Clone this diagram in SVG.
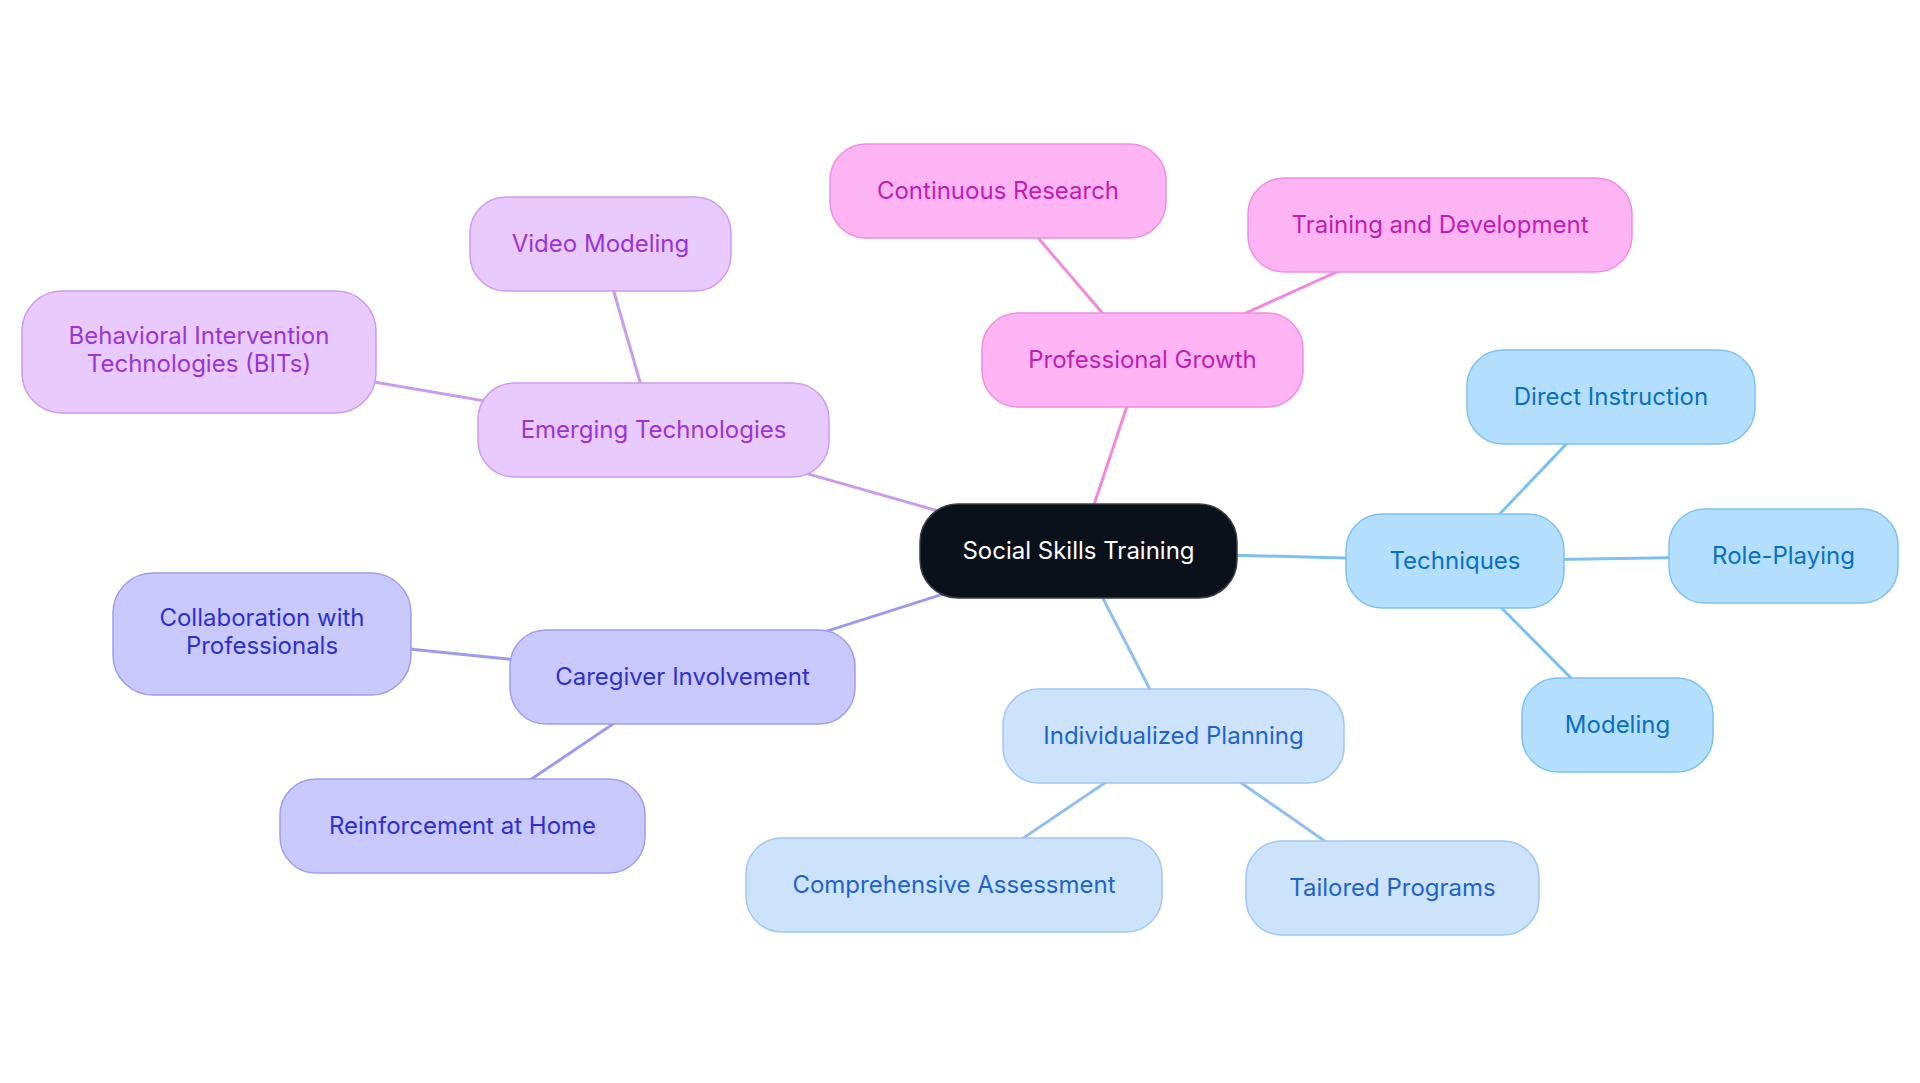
<svg xmlns="http://www.w3.org/2000/svg" width="1920" height="1083" viewBox="0 0 1920 1083">
<style>
text{font-family:Inter,"Noto Sans","Liberation Sans",sans-serif;font-size:24px;text-anchor:middle}
.c line{stroke-width:3;fill:none}
.root rect{fill:#0b111a;stroke:#3a3f47;stroke-width:1.5}
.root text{fill:#ffffff}
.sky rect{fill:#b3dffd;stroke:#7dc1f2;stroke-width:1.5}
.sky text{fill:#0a6fc2}
.blu rect{fill:#cde3fb;stroke:#9cc8f2;stroke-width:1.5}
.blu text{fill:#1d64cc}
.ind rect{fill:#c9c9fd;stroke:#9c9df2;stroke-width:1.5}
.ind text{fill:#2d30cf}
.pur rect{fill:#e8cafd;stroke:#cc9bf2;stroke-width:1.5}
.pur text{fill:#9a34d6}
.pnk rect{fill:#fdb4f2;stroke:#f08ce4;stroke-width:1.5}
.pnk text{fill:#c11db2}
</style>
<rect width="1920" height="1083" fill="#ffffff"/>
<g id="connectors" class="c">
<line x1="1078.5" y1="551" x2="1455" y2="561" stroke="#7cc0f0"/>
<line x1="1455" y1="561" x2="1611" y2="397" stroke="#7cc0f0"/>
<line x1="1455" y1="561" x2="1783" y2="556" stroke="#7cc0f0"/>
<line x1="1455" y1="561" x2="1617.5" y2="725" stroke="#7cc0f0"/>
<line x1="1078.5" y1="551" x2="1174" y2="736" stroke="#90c0f0"/>
<line x1="1174" y1="736" x2="954" y2="885" stroke="#90c0f0"/>
<line x1="1174" y1="736" x2="1392" y2="888" stroke="#90c0f0"/>
<line x1="1078.5" y1="551" x2="682.5" y2="677" stroke="#9b9bf0"/>
<line x1="682.5" y1="677" x2="262" y2="634" stroke="#9b9bf0"/>
<line x1="682.5" y1="677" x2="462" y2="826" stroke="#9b9bf0"/>
<line x1="1078.5" y1="551" x2="654" y2="430" stroke="#c99cf0"/>
<line x1="654" y1="430" x2="600" y2="244" stroke="#c99cf0"/>
<line x1="654" y1="430" x2="199" y2="352" stroke="#c99cf0"/>
<line x1="1078.5" y1="551" x2="1142.5" y2="360" stroke="#f08ae0"/>
<line x1="1142.5" y1="360" x2="998" y2="191" stroke="#f08ae0"/>
<line x1="1142.5" y1="360" x2="1440" y2="225" stroke="#f08ae0"/>
</g>
<g id="n-root" class="root"><rect x="920" y="504" width="317" height="94" rx="38"/><text x="1078.5" y="558.5">Social Skills Training</text></g>
<g id="n-techniques" class="sky"><rect x="1346" y="514" width="218" height="94" rx="36"/><text x="1455" y="568.5">Techniques</text></g>
<g id="n-direct" class="sky"><rect x="1467" y="350" width="288" height="94" rx="36"/><text x="1611" y="404.5">Direct Instruction</text></g>
<g id="n-role" class="sky"><rect x="1669" y="509" width="229" height="94" rx="36"/><text x="1783.5" y="563.5">Role-Playing</text></g>
<g id="n-modeling" class="sky"><rect x="1522" y="678" width="191" height="94" rx="36"/><text x="1617.5" y="732.5">Modeling</text></g>
<g id="n-indiv" class="blu"><rect x="1003" y="689" width="341" height="94" rx="36"/><text x="1173.5" y="743.5">Individualized Planning</text></g>
<g id="n-comp" class="blu"><rect x="746" y="838" width="416" height="94" rx="36"/><text x="954" y="892.5">Comprehensive Assessment</text></g>
<g id="n-tailored" class="blu"><rect x="1246" y="841" width="293" height="94" rx="36"/><text x="1392.5" y="895.5">Tailored Programs</text></g>
<g id="n-caregiver" class="ind"><rect x="510" y="630" width="345" height="94" rx="36"/><text x="682.5" y="684.5">Caregiver Involvement</text></g>
<g id="n-collab" class="ind"><rect x="113" y="573" width="298" height="122" rx="40"/><text x="262" y="626">Collaboration with</text><text x="262" y="654">Professionals</text></g>
<g id="n-reinf" class="ind"><rect x="280" y="779" width="365" height="94" rx="36"/><text x="462.5" y="833.5">Reinforcement at Home</text></g>
<g id="n-emerging" class="pur"><rect x="478" y="383" width="351" height="94" rx="36"/><text x="653.5" y="437.5">Emerging Technologies</text></g>
<g id="n-video" class="pur"><rect x="470" y="197" width="261" height="94" rx="36"/><text x="600.5" y="251.5">Video Modeling</text></g>
<g id="n-bits" class="pur"><rect x="22" y="291" width="354" height="122" rx="40"/><text x="199" y="344">Behavioral Intervention</text><text x="199" y="372">Technologies (BITs)</text></g>
<g id="n-prof" class="pnk"><rect x="982" y="313" width="321" height="94" rx="36"/><text x="1142.5" y="367.5">Professional Growth</text></g>
<g id="n-cont" class="pnk"><rect x="830" y="144" width="336" height="94" rx="36"/><text x="998" y="198.5">Continuous Research</text></g>
<g id="n-train" class="pnk"><rect x="1248" y="178" width="384" height="94" rx="36"/><text x="1440" y="232.5">Training and Development</text></g>
</svg>
